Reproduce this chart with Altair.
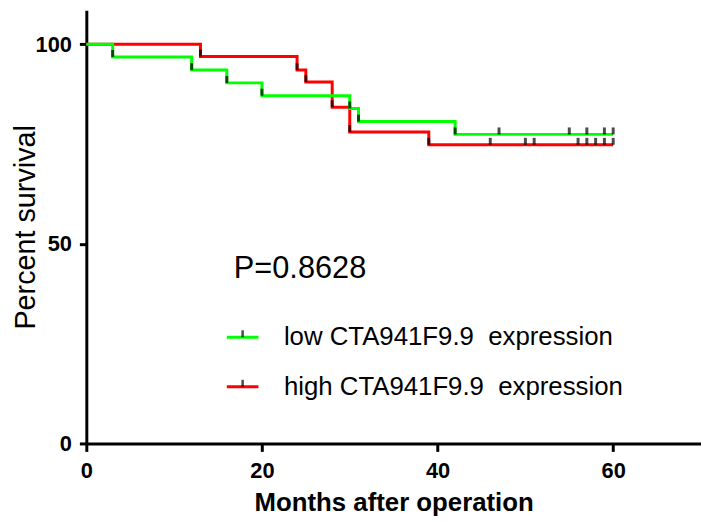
import altair as alt
import pandas as pd

# Kaplan-Meier step data
low_months = [0, 3, 12, 16, 20, 30, 31, 42, 60]
low_surv = [100, 96.8, 93.5, 90.3, 87.1, 83.9, 80.6, 77.4, 77.4]
high_months = [0, 13, 24, 25, 28, 30, 39, 60]
high_surv = [100, 96.9, 93.5, 90.5, 84.2, 78.0, 74.8, 74.8]
low_censor = [47, 55, 57, 59, 60]
high_censor = [46, 50, 51, 56, 57, 58, 59, 60]

groups = ["low CTA941F9.9\u00a0 expression", "high CTA941F9.9\u00a0 expression"]
colors = ["#00FF00", "#FF0000"]
p_label = "P=0.8628"

# ---- tables
rows = []
for t, s in zip(high_months, high_surv):
    rows.append({"t": t, "s": s, "g": groups[1]})
for t, s in zip(low_months, low_surv):
    rows.append({"t": t, "s": s, "g": groups[0]})
curves = pd.DataFrame(rows)

marks = []
for t, s in zip(low_months[1:-1], low_surv[1:-1]):
    marks.append({"t": t, "s": s})
for t in low_censor:
    marks.append({"t": t, "s": low_surv[-1]})
for t, s in zip(high_months[1:-1], high_surv[1:-1]):
    marks.append({"t": t, "s": s})
for t in high_censor:
    marks.append({"t": t, "s": high_surv[-1]})
marks = pd.DataFrame(marks)

# annotation anchors (data units)
leg = pd.DataFrame({
    "x0": [16.0, 16.0], "x1": [19.6, 19.6], "xm": [17.8, 17.8],
    "y": [26.6, 14.2], "tx": [22.5, 22.5], "ty": [24.6, 12.2],
    "g": groups,
})
ptext = pd.DataFrame({"x": [16.8], "y": [41.5], "label": [p_label]})

FONT = "Liberation Sans"

x_axis = alt.Axis(values=[0, 20, 40, 60], title="Months after operation",
                  titleFont=FONT, titleFontSize=26, titleFontWeight="bold",
                  titleColor="black", titleBaseline="alphabetic", titleY=68,
                  labelFont=FONT, labelFontSize=22, labelFontWeight="bold",
                  labelColor="black", labelPadding=9, labelFlush=False,
                  tickSize=8, tickWidth=3, tickColor="black",
                  domainWidth=3, domainColor="black", grid=False)
y_axis = alt.Axis(values=[0, 50, 100], title="Percent survival",
                  titleFont=FONT, titleFontSize=29, titleFontWeight="normal",
                  titleColor="black", titleBaseline="alphabetic",
                  titleX=-52, titleY=218.5, titleAngle=270,
                  labelFont=FONT, labelFontSize=22, labelFontWeight="bold",
                  labelColor="black", labelPadding=8,
                  tickSize=7, tickWidth=3, tickColor="black",
                  domainWidth=3, domainColor="black", grid=False)
xs = alt.Scale(domain=[0, 70], nice=False, zero=True)
ys = alt.Scale(domain=[0, 108.5], nice=False, zero=True)
col = alt.Scale(domain=groups, range=colors)

base = alt.Chart(curves)
lines = base.mark_line(interpolate="step-after", strokeWidth=3).encode(
    x=alt.X("t:Q", scale=xs, axis=x_axis),
    y=alt.Y("s:Q", scale=ys, axis=y_axis),
    color=alt.Color("g:N", scale=col, legend=None),
    order=alt.Order("t:Q"),
    detail="g:N",
)
# draw red first, then green on top
red = lines.transform_filter(alt.datum.g == groups[1])
green = lines.transform_filter(alt.datum.g == groups[0])

ticks = alt.Chart(marks).mark_tick(orient="vertical", size=7, thickness=3,
                                   color="black", yOffset=-3.5).encode(
    x=alt.X("t:Q", scale=xs, axis=x_axis),
    y=alt.Y("s:Q", scale=ys, axis=y_axis),
)

leg_lines = alt.Chart(leg).mark_rule(strokeWidth=3).encode(
    x=alt.X("x0:Q", scale=xs, axis=x_axis),
    x2="x1:Q",
    y=alt.Y("y:Q", scale=ys, axis=y_axis),
    color=alt.Color("g:N", scale=col, legend=None),
)
leg_ticks = alt.Chart(leg).mark_tick(orient="vertical", size=7, thickness=2.5,
                                     color="black", yOffset=-3.5).encode(
    x=alt.X("xm:Q", scale=xs, axis=x_axis),
    y=alt.Y("y:Q", scale=ys, axis=y_axis),
)
leg_text = alt.Chart(leg).mark_text(align="left", baseline="alphabetic",
                                    font=FONT, fontSize=26, color="black").encode(
    x=alt.X("tx:Q", scale=xs, axis=x_axis),
    y=alt.Y("ty:Q", scale=ys, axis=y_axis),
    text="g:N",
)
p_mark = alt.Chart(ptext).mark_text(align="left", baseline="alphabetic",
                                    font=FONT, fontSize=31, color="black").encode(
    x=alt.X("x:Q", scale=xs, axis=x_axis),
    y=alt.Y("y:Q", scale=ys, axis=y_axis),
    text="label:N",
)

chart = alt.layer(red, green, ticks, leg_lines, leg_ticks, leg_text, p_mark).properties(
    width=620, height=437,
    autosize=alt.AutoSizeParams(type="none"),
    padding={"left": 79, "top": 0, "right": 0, "bottom": 76},
    background="white",
).configure_view(stroke=None)

chart.save("out.html", embed_options={"renderer": "svg", "actions": False})
